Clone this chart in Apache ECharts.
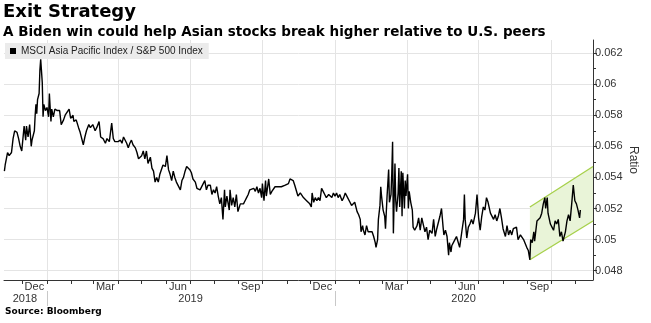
<!DOCTYPE html>
<html><head><meta charset="utf-8">
<script src="https://cdn.jsdelivr.net/npm/echarts@6/dist/echarts.min.js"></script>
<style>html,body{margin:0;padding:0;background:#fff}#c{width:651px;height:323px}</style>
</head><body><div id="c"></div>
<script>
const seriesName = 'MSCI Asia Pacific Index / S&P 500 Index';
const dates = [
'2018-11-08','2018-11-09','2018-11-12','2018-11-14','2018-11-17','2018-11-19','2018-11-21','2018-11-24','2018-11-26','2018-11-28','2018-11-30',
'2018-12-02','2018-12-03','2018-12-05','2018-12-06','2018-12-08','2018-12-10','2018-12-12','2018-12-13','2018-12-16','2018-12-17','2018-12-18','2018-12-19','2018-12-20','2018-12-22','2018-12-23','2018-12-24','2018-12-26','2018-12-27','2018-12-28','2018-12-30',
'2019-01-01','2019-01-03','2019-01-04','2019-01-06','2019-01-07','2019-01-09','2019-01-11','2019-01-14','2019-01-17','2019-01-19','2019-01-22','2019-01-24','2019-01-26','2019-01-29','2019-01-31',
'2019-02-03','2019-02-04','2019-02-07','2019-02-10','2019-02-12','2019-02-14','2019-02-16','2019-02-18','2019-02-20','2019-02-23','2019-02-25','2019-02-28',
'2019-03-03','2019-03-05','2019-03-08','2019-03-10','2019-03-13','2019-03-16','2019-03-18','2019-03-21','2019-03-24','2019-03-26','2019-03-28','2019-03-30',
'2019-04-01','2019-04-04','2019-04-06','2019-04-08','2019-04-10','2019-04-12','2019-04-14','2019-04-16','2019-04-18','2019-04-20','2019-04-23','2019-04-25','2019-04-27','2019-04-29',
'2019-05-01','2019-05-03','2019-05-05','2019-05-07','2019-05-09','2019-05-12','2019-05-14','2019-05-16','2019-05-18','2019-05-20','2019-05-22','2019-05-24','2019-05-26','2019-05-28','2019-05-31',
'2019-06-02','2019-06-04','2019-06-06','2019-06-08','2019-06-10','2019-06-12','2019-06-14','2019-06-16','2019-06-19','2019-06-21','2019-06-23','2019-06-25','2019-06-27','2019-06-29',
'2019-07-01','2019-07-03','2019-07-05','2019-07-08','2019-07-10','2019-07-12','2019-07-14','2019-07-16','2019-07-18','2019-07-20','2019-07-22','2019-07-24','2019-07-27','2019-07-29','2019-07-31',
'2019-08-02','2019-08-04','2019-08-06','2019-08-08','2019-08-10','2019-08-12','2019-08-14','2019-08-15','2019-08-17','2019-08-20','2019-08-21','2019-08-23','2019-08-25','2019-08-27','2019-08-29','2019-08-31',
'2019-09-03','2019-09-05','2019-09-07','2019-09-09','2019-09-11','2019-09-13','2019-09-15','2019-09-17','2019-09-20','2019-09-22','2019-09-24','2019-09-26','2019-09-28','2019-09-30',
'2019-10-01','2019-10-03','2019-10-05','2019-10-06','2019-10-09','2019-10-11','2019-10-13','2019-10-15','2019-10-17','2019-10-19','2019-10-21','2019-10-23','2019-10-25','2019-10-27','2019-10-30',
'2019-11-01','2019-11-03','2019-11-05','2019-11-07','2019-11-09','2019-11-11','2019-11-13','2019-11-15','2019-11-18','2019-11-20','2019-11-22','2019-11-24','2019-11-26','2019-11-28','2019-11-30',
'2019-12-02','2019-12-03','2019-12-05','2019-12-07','2019-12-09','2019-12-11','2019-12-13','2019-12-15','2019-12-17','2019-12-19','2019-12-21','2019-12-24','2019-12-26','2019-12-28','2019-12-30',
'2020-01-01','2020-01-03','2020-01-05','2020-01-07','2020-01-10','2020-01-12','2020-01-14','2020-01-16','2020-01-18','2020-01-20','2020-01-22','2020-01-24','2020-01-26','2020-01-29','2020-01-31',
'2020-02-02','2020-02-03','2020-02-05','2020-02-06','2020-02-08','2020-02-10','2020-02-12','2020-02-14','2020-02-17','2020-02-19','2020-02-21','2020-02-22','2020-02-24','2020-02-25','2020-02-27','2020-02-28','2020-02-29',
'2020-03-02','2020-03-04','2020-03-05','2020-03-07','2020-03-09','2020-03-10','2020-03-12','2020-03-13','2020-03-14','2020-03-15','2020-03-17','2020-03-18','2020-03-19','2020-03-21','2020-03-22','2020-03-23','2020-03-25','2020-03-26','2020-03-27','2020-03-29','2020-03-30','2020-03-31',
'2020-04-02','2020-04-03','2020-04-04','2020-04-06','2020-04-08','2020-04-09','2020-04-11','2020-04-14','2020-04-16','2020-04-18','2020-04-20','2020-04-22','2020-04-24','2020-04-26','2020-04-28','2020-04-30',
'2020-05-03','2020-05-05','2020-05-07','2020-05-09','2020-05-11','2020-05-13','2020-05-15','2020-05-17','2020-05-18','2020-05-20','2020-05-22','2020-05-24','2020-05-25','2020-05-27','2020-05-28','2020-05-30',
'2020-06-01','2020-06-03','2020-06-05','2020-06-07','2020-06-10','2020-06-12','2020-06-13','2020-06-14','2020-06-16','2020-06-18','2020-06-20','2020-06-22','2020-06-24','2020-06-27','2020-06-29',
'2020-07-01','2020-07-03','2020-07-05','2020-07-07','2020-07-09','2020-07-11','2020-07-13','2020-07-16','2020-07-18','2020-07-20','2020-07-22','2020-07-24','2020-07-26','2020-07-28','2020-07-30',
'2020-08-01','2020-08-04','2020-08-06','2020-08-08','2020-08-10','2020-08-12','2020-08-14','2020-08-16','2020-08-18','2020-08-20','2020-08-23','2020-08-25','2020-08-27','2020-08-29','2020-08-31',
'2020-09-02','2020-09-04','2020-09-05','2020-09-07','2020-09-09','2020-09-10','2020-09-13','2020-09-15','2020-09-17','2020-09-19','2020-09-21','2020-09-23','2020-09-24','2020-09-26','2020-09-27','2020-09-30',
'2020-10-02','2020-10-04','2020-10-06','2020-10-08','2020-10-10','2020-10-12','2020-10-14','2020-10-16','2020-10-19','2020-10-21','2020-10-23','2020-10-25','2020-10-27','2020-10-29','2020-10-31',
'2020-11-02','2020-11-04','2020-11-06','2020-11-07'
];
const ratio = [
0.0544,0.0548,0.0556,0.0554,0.0556,0.0565,0.0570,0.0569,0.0565,0.0560,0.0557,
0.0558,0.0573,0.0564,0.0573,0.0566,0.0574,0.0560,0.0564,0.0570,0.0580,0.0587,0.0581,0.0590,0.0594,0.0609,0.0616,0.0601,0.0579,0.0587,0.0583,
0.0585,0.0579,0.0594,0.0576,0.0584,0.0579,0.0584,0.0583,0.0583,0.0574,0.0577,0.0580,0.0579,0.0584,0.0578,
0.0580,0.0576,0.0577,0.0572,0.0569,0.0570,0.0561,0.0566,0.0570,0.0574,0.0572,0.0574,
0.0570,0.0572,0.0576,0.0566,0.0565,0.0562,0.0565,0.0563,0.0575,0.0565,0.0563,0.0564,
0.0563,0.0564,0.0562,0.0566,0.0567,0.0562,0.0559,0.0562,0.0564,0.0561,0.0559,0.0556,0.0552,0.0551,
0.0554,0.0557,0.0552,0.0557,0.0549,0.0553,0.0546,0.0544,0.0537,0.0540,0.0537,0.0542,0.0543,0.0548,0.0547,
0.0554,0.0545,0.0542,0.0538,0.0544,0.0540,0.0537,0.0536,0.0532,0.0538,0.0540,0.0544,0.0547,0.0546,
0.0545,0.0543,0.0539,0.0537,0.0533,0.0532,0.0532,0.0532,0.0536,0.0538,0.0532,0.0535,0.0535,0.0529,0.0532,
0.0530,0.0534,0.0528,0.0523,0.0527,0.0513,0.0532,0.0521,0.0528,0.0519,0.0532,0.0522,0.0527,0.0521,0.0529,0.0518,
0.0523,0.0522,0.0523,0.0525,0.0527,0.0529,0.0532,0.0531,0.0533,0.0531,0.0534,0.0530,0.0533,0.0527,
0.0536,0.0525,0.0538,0.0528,0.0539,0.0529,0.0531,0.0532,0.0534,0.0533,0.0534,0.0534,0.0534,0.0533,0.0535,
0.0534,0.0536,0.0539,0.0540,0.0538,0.0535,0.0536,0.0528,0.0530,0.0530,0.0527,0.0526,0.0525,0.0524,0.0523,
0.0521,0.0530,0.0524,0.0527,0.0525,0.0527,0.0525,0.0533,0.0531,0.0529,0.0527,0.0529,0.0528,0.0527,0.0530,
0.0528,0.0530,0.0527,0.0529,0.0525,0.0527,0.0530,0.0528,0.0529,0.0524,0.0522,0.0521,0.0524,0.0518,0.0516,
0.0513,0.0505,0.0509,0.0506,0.0503,0.0509,0.0505,0.0506,0.0505,0.0502,0.0498,0.0495,0.0500,0.0513,0.0522,0.0534,0.0528,
0.0519,0.0515,0.0507,0.0528,0.0545,0.0524,0.0529,0.0543,0.0563,0.0504,0.0549,0.0525,0.0518,0.0530,0.0546,0.0521,0.0544,0.0515,0.0543,0.0520,0.0538,0.0528,
0.0542,0.0520,0.0531,0.0524,0.0519,0.0508,0.0506,0.0509,0.0514,0.0506,0.0514,0.0515,0.0505,0.0508,0.0500,0.0506,
0.0504,0.0513,0.0502,0.0507,0.0506,0.0515,0.0520,0.0508,0.0503,0.0506,0.0502,0.0490,0.0498,0.0492,0.0496,0.0495,
0.0500,0.0502,0.0503,0.0495,0.0506,0.0513,0.0529,0.0513,0.0501,0.0508,0.0510,0.0513,0.0510,0.0517,0.0529,
0.0514,0.0506,0.0515,0.0521,0.0519,0.0527,0.0524,0.0517,0.0516,0.0513,0.0516,0.0512,0.0515,0.0520,0.0514,
0.0507,0.0502,0.0509,0.0503,0.0506,0.0503,0.0507,0.0506,0.0508,0.0500,0.0503,0.0502,0.0500,0.0499,0.0495,
0.0493,0.0487,0.0500,0.0498,0.0505,0.0499,0.0512,0.0513,0.0514,0.0517,0.0523,0.0527,0.0520,0.0527,0.0517,0.0510,
0.0508,0.0506,0.0512,0.0510,0.0513,0.0502,0.0505,0.0499,0.0505,0.0512,0.0516,0.0512,0.0523,0.0535,0.0525,
0.0523,0.0519,0.0514,0.0519
];
// trend channel
const channelDates = ['2020-09-04', '2020-11-23'];
const channelLower = [0.0487, 0.0512];
const channelUpper = [0.0521, 0.0547];
// axes
const xRange = ['2018-11-07T12:00:00', '2020-11-23'];
const yRange = [0.0474, 0.06284];
const yTicks = [0.048, 0.050, 0.052, 0.054, 0.056, 0.058, 0.060, 0.062];
const yMinorTicks = [0.047, 0.049, 0.051, 0.053, 0.055, 0.057, 0.059, 0.061];
const monthStarts = ['2018-12-01','2019-01-01','2019-02-01','2019-03-01','2019-04-01','2019-05-01','2019-06-01','2019-07-01','2019-08-01','2019-09-01','2019-10-01','2019-11-01','2019-12-01',
  '2020-01-01','2020-02-01','2020-03-01','2020-04-01','2020-05-01','2020-06-01','2020-07-01','2020-08-01','2020-09-01','2020-10-01','2020-11-01'];
const quarterStarts = ['2019-01-01','2019-04-01','2019-07-01','2019-10-01','2020-01-01','2020-04-01','2020-07-01','2020-10-01'];
const monthLabelDates = ['2018-12-16','2019-03-16','2019-06-16','2019-09-16','2019-12-16','2020-03-16','2020-06-16','2020-09-16'];
const monthLabels = ['Dec','Mar','Jun','Sep','Dec','Mar','Jun','Sep'];
const yearStarts = ['2019-01-01','2020-01-01'];
const yearLabelDates = ['2018-12-04','2019-07-02','2020-06-12'];
const yearLabels = ['2018','2019','2020'];

const T = s => echarts.time.parse(s).getTime();
const lookup = (list, labels) => v => {
  const i = list.findIndex(d => Math.abs(T(d) - v) < 3600000 * 12);
  return i >= 0 ? labels[i] : '';
};
const AX = '#333';
const GRID = '#e4e4e4';
const FONT = 'Liberation Sans';
const GREEN = '#a6d04a';

const chart = echarts.init(document.getElementById('c'), null, {renderer: 'canvas'});
const baseX = () => ({type: 'value', min: T(xRange[0]), max: T(xRange[1]), position: 'bottom', scale: true});
chart.setOption({
  animation: false,
  backgroundColor: '#fff',
  title: [
    {text: 'Exit Strategy', left: 3, top: 3, padding: 0,
     textStyle: {fontFamily: 'DejaVu Sans', fontWeight: 'bold', fontSize: 18, color: '#000'}},
    {text: 'A Biden win could help Asian stocks break higher relative to U.S. peers', left: 3, top: 25, padding: 0,
     textStyle: {fontFamily: 'DejaVu Sans', fontWeight: 'bold', fontSize: 13.5, color: '#000'}},
    {text: 'Source: Bloomberg', left: 5, top: 307, padding: 0,
     textStyle: {fontFamily: 'DejaVu Sans', fontWeight: 'bold', fontSize: 9, color: '#000'}}
  ],
  legend: {
    data: [seriesName], left: 5, top: 43, padding: [3, 6, 3, 5],
    backgroundColor: '#ebebeb', icon: 'rect', itemWidth: 6, itemHeight: 6, itemGap: 4,
    textStyle: {fontFamily: FONT, fontSize: 10, color: '#222'},
    selectedMode: false
  },
  grid: {left: 4, right: 58, top: 40, bottom: 43, outerBoundsMode: 'none', containLabel: false},
  xAxis: [
    Object.assign(baseX(), {
      axisLine: {show: true, lineStyle: {color: AX, width: 1}},
      axisTick: {show: true, customValues: monthStarts.map(T), length: 4, lineStyle: {color: AX}},
      axisLabel: {show: true, customValues: monthLabelDates.map(T), formatter: lookup(monthLabelDates, monthLabels),
                  margin: 1, fontFamily: FONT, fontSize: 11, color: AX, hideOverlap: false},
      splitLine: {show: false}
    }),
    Object.assign(baseX(), {
      axisLine: {show: false},
      axisTick: {show: false, customValues: quarterStarts.map(T)},
      axisLabel: {show: false},
      splitLine: {show: true, lineStyle: {color: GRID, width: 1}}
    }),
    Object.assign(baseX(), {
      offset: 11,
      axisLine: {show: false},
      axisTick: {show: true, customValues: yearStarts.map(T), length: 15, lineStyle: {color: '#c8c8c8'}},
      axisLabel: {show: true, customValues: yearLabelDates.map(T), formatter: lookup(yearLabelDates, yearLabels),
                  margin: 2, fontFamily: FONT, fontSize: 11, color: AX, hideOverlap: false},
      splitLine: {show: false}
    })
  ],
  yAxis: [
    {type: 'value', position: 'right', min: yRange[0], max: yRange[1], scale: true,
     axisLine: {show: true, lineStyle: {color: AX}},
     axisTick: {show: true, customValues: yTicks, length: 4, lineStyle: {color: AX}},
     axisLabel: {show: true, customValues: yTicks, formatter: v => String(+v.toFixed(3)), margin: 2,
                 fontFamily: FONT, fontSize: 11, color: AX},
     splitLine: {show: true, lineStyle: {color: GRID, width: 1}},
     name: 'Ratio', nameLocation: 'middle', nameRotate: -90, nameGap: 34, nameMoveOverlap: false,
     nameTextStyle: {fontFamily: FONT, fontSize: 12, color: AX}},
    {type: 'value', position: 'right', min: yRange[0], max: yRange[1], scale: true,
     axisLine: {show: false},
     axisTick: {show: true, customValues: yMinorTicks, length: 3, lineStyle: {color: AX}},
     axisLabel: {show: false}, splitLine: {show: false}}
  ],
  series: [
    {name: 'channelFill', type: 'custom', silent: true, z: 1,
     data: channelDates.map((d, i) => [T(d), channelLower[i], channelUpper[i]]),
     encode: {x: 0, y: [1, 2]},
     renderItem: (params, api) => {
       if (params.dataIndex !== 0) return null;
       const pts = [];
       channelDates.forEach((d, i) => pts.push(api.coord([T(d), channelUpper[i]])));
       for (let i = channelDates.length - 1; i >= 0; i--) pts.push(api.coord([T(channelDates[i]), channelLower[i]]));
       return {type: 'polygon', shape: {points: pts}, style: {fill: '#e9f4d8'}};
     }},
    {name: 'channelLower', type: 'line', symbol: 'none', silent: true, z: 2,
     data: channelDates.map((d, i) => [T(d), channelLower[i]]),
     lineStyle: {color: GREEN, width: 1.3}},
    {name: 'channelUpper', type: 'line', symbol: 'none', silent: true, z: 2,
     data: channelDates.map((d, i) => [T(d), channelUpper[i]]),
     lineStyle: {color: GREEN, width: 1.3}},
    {name: seriesName, type: 'line', symbol: 'none', z: 5,
     data: dates.map((d, i) => [T(d), ratio[i]]),
     itemStyle: {color: '#000'},
     lineStyle: {color: '#000', width: 1.4}}
  ]
});
</script>
</body></html>
